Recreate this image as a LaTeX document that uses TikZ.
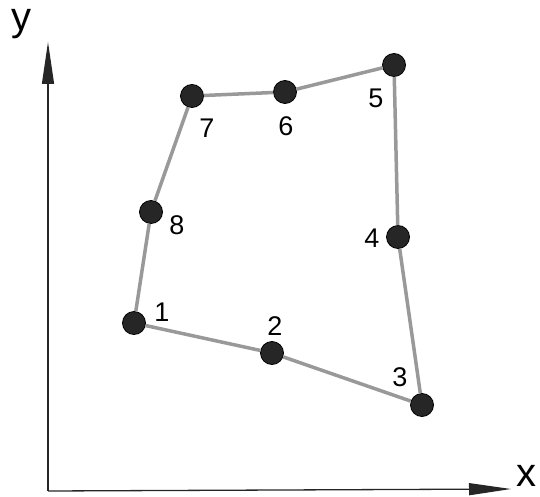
\documentclass[tikz,border=0pt]{standalone}
\usepackage{fontspec}
\setmainfont{Liberation Sans}
\usetikzlibrary{arrows.meta}
\begin{document}
\begin{tikzpicture}[x=1pt,y=-1pt,
  pt/.style={circle,fill=black!85,draw=black,line width=0.8pt,minimum size=23pt,inner sep=0pt},
  edge/.style={draw=black!40,line width=3.5pt},
  lbl/.style={font=\fontsize{27}{29}\selectfont,inner sep=0pt},
  axlbl/.style={font=\fontsize{40}{42}\selectfont,inner sep=0pt},
  axis/.style={draw=black!85,line width=1.3pt,-{Triangle[length=42pt,width=12pt]}}]
\useasboundingbox (0,0) rectangle (540,497);
\coordinate (O) at (48,491);
\coordinate (Y) at (48,42);
\coordinate (X) at (511,489);
\draw[axis] (O) -- (Y);
\draw[axis] (O) -- (X);
\node[axlbl] (ylab) at (22,24) {y};
\node[axlbl] (xlab) at (526,476) {x};
\node[pt] (n1) at (134,323) {};
\node[pt] (n2) at (272,353) {};
\node[pt] (n3) at (422,405) {};
\node[pt] (n4) at (398,237) {};
\node[pt] (n5) at (394,65) {};
\node[pt] (n6) at (285,92) {};
\node[pt] (n7) at (192,96) {};
\node[pt] (n8) at (151,212) {};
\draw[edge] (n1) -- (n2) -- (n3) -- (n4) -- (n5) -- (n6) -- (n7) -- (n8) -- (n1);
\node[lbl] (l1) at (162,312) {1};
\node[lbl] (l2) at (275,326) {2};
\node[lbl] (l3) at (400,377) {3};
\node[lbl] (l4) at (372,238) {4};
\node[lbl] (l5) at (376,98) {5};
\node[lbl] (l6) at (286,126) {6};
\node[lbl] (l7) at (207,128) {7};
\node[lbl] (l8) at (177,225) {8};
\end{tikzpicture}
\end{document}
